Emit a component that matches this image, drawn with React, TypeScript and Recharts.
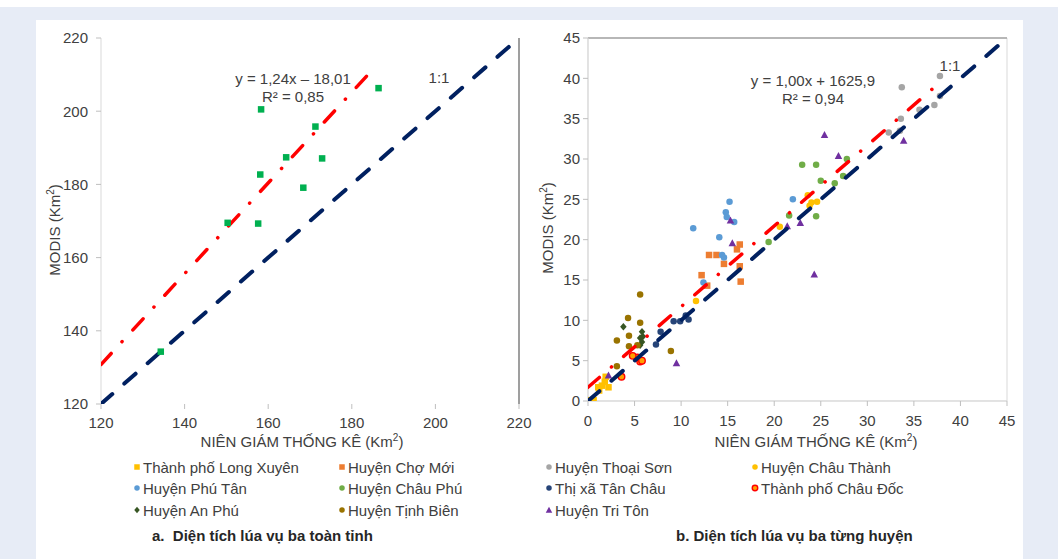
import { ScatterChart, Scatter, XAxis, YAxis, ReferenceLine, ReferenceArea } from "recharts";

type Pt = [number, number];

// panel a: whole province (120–220 km²)
const provinceTicks = [120, 140, 160, 180, 200, 220];
const province: Pt[] = [
  [158.3, 200.5], [186.4, 206.3], [171.3, 195.8], [164.3, 187.4], [172.9, 187.1],
  [158.1, 182.7], [168.4, 179.1], [150.3, 169.5], [157.6, 169.3], [134.3, 134.3],
];
const provinceTrend = { slope: 1.24, intercept: -18.01, from: 120, to: 185.8 };

// panel b: per district (0–45 km²)
const districtTicks = [0, 5, 10, 15, 20, 25, 30, 35, 40, 45];
const longXuyen: Pt[] = [[0.3, 0.1], [0.6, 0.1], [1.1, 1.7], [1.5, 1.9], [1.2, 1.3], [1.9, 3.0], [2.2, 1.7], [1.8, 2.4]];
const choMoi: Pt[] = [[13.0, 18.1], [13.8, 18.1], [14.6, 17.0], [16.0, 18.8], [16.3, 19.4], [16.3, 16.7], [12.2, 15.6], [12.8, 14.3], [16.4, 14.8]];
const thoaiSon: Pt[] = [[37.8, 40.3], [33.7, 38.9], [35.6, 36.1], [37.2, 36.7], [37.8, 37.8], [33.6, 35.0], [33.5, 33.5], [32.3, 33.3]];
const chauThanh: Pt[] = [[23.6, 25.5], [24.0, 24.6], [24.6, 24.7], [23.8, 24.2], [20.6, 21.6], [11.6, 12.4]];
const phuTan: Pt[] = [[15.2, 24.7], [14.8, 23.4], [14.9, 22.8], [15.7, 22.2], [11.3, 21.4], [14.1, 20.3], [14.4, 18.1], [14.6, 17.8], [22.0, 25.0], [12.4, 14.7]];
const chauPhu: Pt[] = [[23.0, 29.3], [24.5, 29.3], [27.8, 30.0], [25.0, 27.3], [26.5, 27.0], [27.4, 27.9], [21.6, 23.0], [24.5, 22.9], [19.4, 19.7]];
const tanChau: Pt[] = [[7.3, 7.0], [7.8, 8.6], [9.2, 9.9], [9.9, 9.9], [10.8, 10.1], [10.5, 10.6]];
const chauDoc: Pt[] = [[5.6, 4.9], [5.3, 5.4], [4.8, 5.6], [3.6, 3.0], [5.8, 5.0]];
const anPhu: Pt[] = [[3.8, 9.2], [5.8, 8.6], [5.9, 8.0], [5.6, 7.8], [5.8, 7.3], [5.6, 6.9]];
const tinhBien: Pt[] = [[5.6, 13.2], [4.3, 10.3], [5.6, 9.7], [3.1, 7.5], [4.4, 8.1], [4.4, 6.8], [5.3, 6.9], [8.9, 6.2], [3.1, 4.3]];
const triTon: Pt[] = [[25.4, 33.0], [33.9, 32.3], [26.9, 30.4], [15.3, 22.4], [15.5, 19.6], [21.4, 21.7], [22.8, 22.1], [24.3, 15.7], [9.5, 4.7], [2.2, 3.2]];
const districtTrend = { slope: 1.0, intercept: 1.7, from: 0, to: 37.8 };

const districts = [
  { name: "Thành phố Long Xuyên", pts: longXuyen, kind: "square", fill: "#ffc000" },
  { name: "Huyện Chợ Mới", pts: choMoi, kind: "square", fill: "#ed7d31" },
  { name: "Huyện Thoại Sơn", pts: thoaiSon, kind: "circle", fill: "#a5a5a5" },
  { name: "Huyện Châu Thành", pts: chauThanh, kind: "circle", fill: "#ffc000" },
  { name: "Huyện Phú Tân", pts: phuTan, kind: "circle", fill: "#5b9bd5" },
  { name: "Huyện Châu Phú", pts: chauPhu, kind: "circle", fill: "#70ad47" },
  { name: "Thị xã Tân Châu", pts: tanChau, kind: "circle", fill: "#264478" },
  { name: "Thành phố Châu Đốc", pts: chauDoc, kind: "circle", fill: "#ffa000", stroke: "#ff0000" },
  { name: "Huyện An Phú", pts: anPhu, kind: "diamond", fill: "#375623" },
  { name: "Huyện Tịnh Biên", pts: tinhBien, kind: "circle", fill: "#997300" },
  { name: "Huyện Tri Tôn", pts: triTon, kind: "triangle", fill: "#7030a0" },
];

const toXY = (pts: Pt[]) => pts.map(([x, y]) => ({ x, y }));
const trendLine = (t: { slope: number; intercept: number; from: number; to: number }) =>
  [t.from, t.to].map((x) => ({ x, y: t.slope * x + t.intercept }));
const identity = (ticks: number[]) => [ticks[0], ticks[ticks.length - 1]].map((v) => ({ x: v, y: v }));

const TEXT = "#404040";
const tickStyle = { fill: TEXT, fontSize: 15 };
const redLine = { stroke: "#ff0000", strokeWidth: 3.5, strokeDasharray: "15 16 0.1 16", strokeLinecap: "round" };
const navyLine = { stroke: "#002060", strokeWidth: 4, strokeDasharray: "15 16", strokeLinecap: "round" };

function Marker({ kind, cx, cy, fill, stroke, s = 6.5 }: any) {
  const h = s / 2;
  if (kind === "square") return <rect x={cx - h} y={cy - h} width={s} height={s} fill={fill} />;
  if (kind === "diamond")
    return <path d={`M${cx},${cy - h - 0.5}L${cx + h},${cy}L${cx},${cy + h + 0.5}L${cx - h},${cy}Z`} fill={fill} />;
  if (kind === "triangle")
    return <path d={`M${cx},${cy - h - 0.5}L${cx + h + 0.5},${cy + h}L${cx - h - 0.5},${cy + h}Z`} fill={fill} />;
  return <circle cx={cx} cy={cy} r={h} fill={fill} stroke={stroke} strokeWidth={stroke ? 1.4 : 0} />;
}

const Txt = ({ x, y, size = 15, bold = false, rotate = false, left = false, color = TEXT, children }: any) => (
  <div
    style={{
      position: "absolute",
      left: x,
      top: y,
      transform: `translate(${left ? "0" : "-50%"}, -50%)${rotate ? " rotate(-90deg)" : ""}`,
      fontSize: size,
      fontWeight: bold ? 700 : 400,
      color,
      whiteSpace: "nowrap",
      lineHeight: 1,
    }}
  >
    {children}
  </div>
);

const Km2 = () => (
  <>
    (Km<sup style={{ fontSize: 10, lineHeight: 0 }}>2</sup>)
  </>
);

const noDot = () => <g />;

export default function App() {
  return (
    <div
      style={{
        position: "absolute",
        left: 0,
        top: 0,
        width: 1058,
        height: 559,
        overflow: "hidden",
        background: "#fff",
        fontFamily: "'Liberation Sans', Arial, sans-serif",
      }}
    >
      <div style={{ position: "absolute", left: 0, top: 7, width: 1058, height: 552, background: "#e7ecf6" }} />
      <div style={{ position: "absolute", left: 36, top: 20, width: 987, height: 539, background: "#fff" }} />

      {/* a. province */}
      <div style={{ position: "absolute", left: 0, top: 0 }}>
        <ScatterChart width={540} height={460} margin={{ top: 38, right: 21, bottom: 26, left: 41 }}>
          <XAxis
            type="number"
            dataKey="x"
            domain={[120, 220]}
            ticks={provinceTicks}
            height={30}
            axisLine={false}
            tickLine={{ stroke: "#bfbfbf" }}
            tickSize={5}
            tickMargin={8}
            tick={tickStyle}
            allowDataOverflow
          />
          <YAxis
            type="number"
            dataKey="y"
            domain={[120, 220]}
            ticks={provinceTicks}
            width={60}
            axisLine={{ stroke: "#d9d9d9" }}
            tickLine={{ stroke: "#bfbfbf" }}
            tickSize={5}
            tickMargin={8}
            tick={tickStyle}
            allowDataOverflow
          />
          <ReferenceLine x={220} stroke="#7f7f7f" strokeWidth={1.5} ifOverflow="visible" />
          <Scatter data={identity(provinceTicks)} line={navyLine} shape={noDot} legendType="none" isAnimationActive={false} />
          <Scatter data={trendLine(provinceTrend)} line={redLine} shape={noDot} legendType="none" isAnimationActive={false} />
          <Scatter
            data={toXY(province)}
            shape={(p: any) => <Marker kind="square" cx={p.cx} cy={p.cy} fill="#00b050" />}
            isAnimationActive={false}
          />
        </ScatterChart>
      </div>

      {/* b. districts */}
      <div style={{ position: "absolute", left: 530, top: 0 }}>
        <ScatterChart width={500} height={460} margin={{ top: 38, right: 23, bottom: 29, left: 18 }}>
          <XAxis
            type="number"
            dataKey="x"
            domain={[0, 45]}
            ticks={districtTicks}
            height={30}
            axisLine={{ stroke: "#d9d9d9" }}
            tickLine={{ stroke: "#bfbfbf" }}
            tickSize={5}
            tickMargin={9}
            tick={tickStyle}
            allowDataOverflow
          />
          <YAxis
            type="number"
            dataKey="y"
            domain={[0, 45]}
            ticks={districtTicks}
            width={40}
            axisLine={{ stroke: "#d9d9d9" }}
            tickLine={{ stroke: "#bfbfbf" }}
            tickSize={5}
            tickMargin={3}
            tick={tickStyle}
            allowDataOverflow
          />
          <ReferenceArea x1={0} x2={45} y1={0} y2={45} fill="none" stroke="#d9d9d9" ifOverflow="visible" />
          <ReferenceLine y={45} stroke="#a6a6a6" strokeWidth={1.5} ifOverflow="visible" />
          {districts.map((d) => (
            <Scatter
              key={d.name}
              name={d.name}
              data={toXY(d.pts)}
              shape={(p: any) => <Marker kind={d.kind} cx={p.cx} cy={p.cy} fill={d.fill} stroke={d.stroke} />}
              isAnimationActive={false}
            />
          ))}
          <Scatter data={identity(districtTicks)} line={navyLine} shape={noDot} legendType="none" isAnimationActive={false} />
          <Scatter data={trendLine(districtTrend)} line={redLine} shape={noDot} legendType="none" isAnimationActive={false} />
        </ScatterChart>
      </div>

      {/* axis titles + annotations */}
      <Txt x={302} y={441}>NIÊN GIÁM THỐNG KÊ <Km2 /></Txt>
      <Txt x={816} y={441}>NIÊN GIÁM THỐNG KÊ <Km2 /></Txt>
      <Txt x={54} y={230} rotate>MODIS <Km2 /></Txt>
      <Txt x={547} y={228} rotate>MODIS <Km2 /></Txt>

      <Txt x={293} y={78}>y = 1,24x – 18,01</Txt>
      <Txt x={293} y={96}>R² = 0,85</Txt>
      <Txt x={439} y={77}>1:1</Txt>
      <Txt x={813} y={80}>y = 1,00x + 1625,9</Txt>
      <Txt x={813} y={98}>R² = 0,94</Txt>
      <Txt x={950} y={65}>1:1</Txt>

      {/* legend */}
      {districts.map((d, i) => {
        const x = [143, 348, 555, 761][i % 4];
        const y = [467, 488, 510][Math.floor(i / 4)];
        return (
          <div key={d.name}>
            <svg width={10} height={10} style={{ position: "absolute", left: x - 11, top: y - 5 }}>
              <Marker kind={d.kind} cx={5} cy={5} fill={d.fill} stroke={d.stroke} s={5.5} />
            </svg>
            <Txt x={x} y={y} left>{d.name}</Txt>
          </div>
        );
      })}

      <Txt x={152} y={535} bold left color="#262626">a.&nbsp; Diện tích lúa vụ ba toàn tỉnh</Txt>
      <Txt x={676} y={535} bold left color="#262626">b. Diện tích lúa vụ ba từng huyện</Txt>
    </div>
  );
}
